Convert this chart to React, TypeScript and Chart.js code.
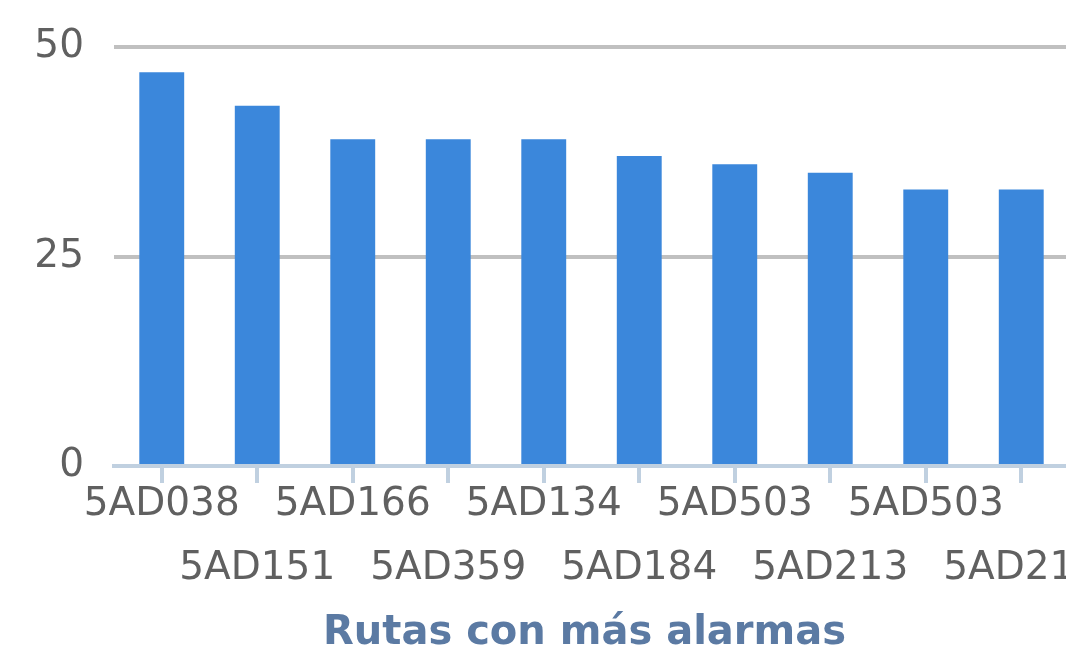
import React, { useEffect, useRef } from "react";
import { Chart, registerables } from "chart.js";

Chart.register(...registerables);

const categories = [
  "5AD038",
  "5AD151",
  "5AD166",
  "5AD359",
  "5AD134",
  "5AD184",
  "5AD503",
  "5AD213",
  "5AD503",
  "5AD213",
];
const alarmCounts = [47, 43, 39, 39, 39, 37, 36, 35, 33, 33];
const yTickValues = [0, 25, 50];
const axisTitle = "Rutas con más alarmas";

export default function App() {
  const canvasRef = useRef<HTMLCanvasElement>(null);

  useEffect(() => {
    const canvas = canvasRef.current;
    if (!canvas) return;
    const labelFont = { family: "'DejaVu Sans', Verdana, sans-serif", size: 39 };
    const chart = new Chart(canvas, {
      type: "bar",
      data: {
        labels: categories,
        datasets: [
          {
            data: alarmCounts,
            backgroundColor: "#3b87db",
            borderWidth: 0,
            barPercentage: 0.47,
            categoryPercentage: 1,
          },
        ],
      },
      options: {
        animation: false,
        responsive: false,
        layout: { autoPadding: false, padding: { left: 31, top: 47, right: 41, bottom: 0 } },
        plugins: {
          legend: { display: false },
          tooltip: { enabled: false },
        },
        scales: {
          x: {
            offset: true,
            afterFit: (s: any) => {
              s.height = 188;
              s.paddingLeft = 0;
              s.paddingRight = 0;
              s.paddingTop = 0;
              s.paddingBottom = 0;
            },
            grid: {
              offset: false,
              drawOnChartArea: false,
              drawTicks: true,
              tickLength: 17,
              color: "#c0d0e0",
              lineWidth: 4,
            },
            border: { display: true, color: "#c0d0e0", width: 4 },
            ticks: {
              autoSkip: false,
              maxRotation: 0,
              minRotation: 0,
              padding: -10,
              color: "#606060",
              font: { ...labelFont, lineHeight: "64px" },
              callback: (_v: any, i: number) =>
                i % 2 === 0 ? categories[i] : ["", categories[i]],
            },
            title: {
              display: true,
              text: axisTitle + "\u00a0",
              color: "#5b7aa3",
              font: {
                family: "'DejaVu Sans', Verdana, sans-serif",
                size: 40,
                weight: "bold",
                lineHeight: "46px",
              },
              padding: { top: 11, bottom: -3 },
            },
          },
          y: {
            min: 0,
            max: 50,
            afterBuildTicks: (scale: any) => {
              scale.ticks = yTickValues.map((v) => ({ value: v }));
            },
            afterFit: (s: any) => {
              s.width = 83;
              s.paddingTop = 0;
              s.paddingBottom = 0;
              s.paddingLeft = 0;
              s.paddingRight = 0;
            },
            grid: {
              drawTicks: false,
              lineWidth: 4,
              color: (ctx: any) =>
                ctx.tick && ctx.tick.value === 0 ? "rgba(0,0,0,0)" : "#c0c0c0",
            },
            border: { display: false },
            ticks: {
              padding: 30,
              color: "#606060",
              font: labelFont,
            },
          },
        },
      },
    } as any);
    return () => chart.destroy();
  }, []);

  return (
    <div
      style={{
        position: "fixed",
        left: 0,
        top: 0,
        width: 1066,
        height: 652,
        overflow: "hidden",
        background: "#ffffff",
      }}
    >
      <canvas
        ref={canvasRef}
        width={1110}
        height={654}
        style={{ display: "block", width: 1110, height: 654 }}
      />
    </div>
  );
}
